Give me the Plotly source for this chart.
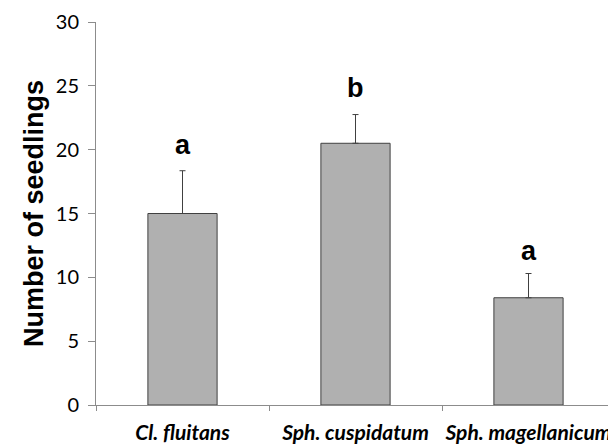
import plotly.graph_objects as go

categories = ["Cl. fluitans", "Sph. cuspidatum", "Sph. magellanicum"]
values = [15.0, 20.5, 8.4]
errors = [3.35, 2.25, 1.9]
letters = ["a", "b", "a"]
letter_y = [20.4, 24.8, 12.1]
y_ticks = [0, 5, 10, 15, 20, 25, 30]

fig = go.Figure()
fig.add_trace(go.Bar(
    x=categories, y=values,
    width=0.4,
    marker=dict(color="#b0b0b0", line=dict(color="#404040", width=1)),
    error_y=dict(type="data", array=errors, symmetric=False, arrayminus=[0]*3,
                 color="#404040", thickness=1, width=3),
))
for c, l, ly in zip(categories, letters, letter_y):
    fig.add_annotation(x=c, y=ly, text="<b>" + l + "</b>", showarrow=False,
                       font=dict(family="Liberation Sans, Arial", size=27, color="black"),
                       yanchor="middle")

fig.update_layout(
    width=616, height=447,
    margin=dict(l=88, r=9, t=14, b=50),
    plot_bgcolor="white", paper_bgcolor="white",
    showlegend=False,
)
fig.update_yaxes(
    range=[0, 30], tickvals=y_ticks, showgrid=False, zeroline=False,
    showline=True, linecolor="#8c8c8c", linewidth=1,
    ticks="outside", ticklen=7, tickcolor="#8c8c8c",
    tickfont=dict(family="Lato, Liberation Sans", size=20, color="black"),
    ticklabelstandoff=5, automargin=False,
    title=dict(text="<b>Number of seedlings</b>",
               font=dict(family="Liberation Sans, Arial", size=27, color="black"),
               standoff=4),
)
fig.update_xaxes(
    showgrid=False, showline=True, linecolor="#8c8c8c", linewidth=1,
    ticks="outside", ticklen=5, tickcolor="#8c8c8c", tickson="boundaries",
    tickfont=dict(family="Lato, Open Sans", size=21, color="black"),
    ticktext=["<b><i>" + c + "</i></b>" for c in categories],
    tickvals=categories, tickangle=0,
    ticklabelstandoff=9, automargin=False,
)
fig.write_html("out.html")
